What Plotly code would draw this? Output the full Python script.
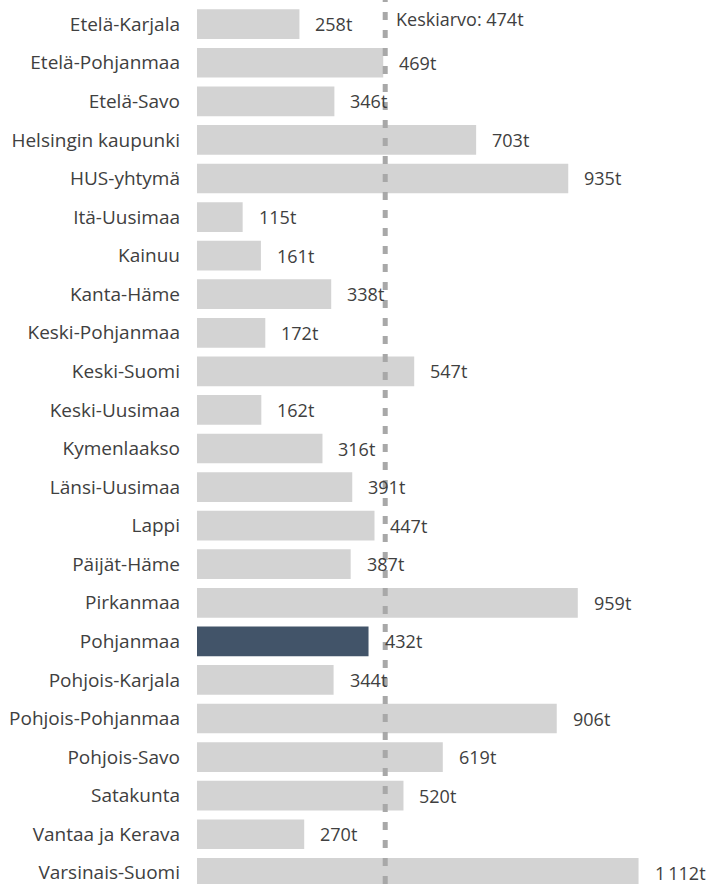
import plotly.graph_objects as go

categories = ["Etelä-Karjala", "Etelä-Pohjanmaa", "Etelä-Savo", "Helsingin kaupunki",
              "HUS-yhtymä", "Itä-Uusimaa", "Kainuu", "Kanta-Häme", "Keski-Pohjanmaa",
              "Keski-Suomi", "Keski-Uusimaa", "Kymenlaakso", "Länsi-Uusimaa", "Lappi",
              "Päijät-Häme", "Pirkanmaa", "Pohjanmaa", "Pohjois-Karjala",
              "Pohjois-Pohjanmaa", "Pohjois-Savo", "Satakunta", "Vantaa ja Kerava",
              "Varsinais-Suomi"]
values = [258, 469, 346, 703, 935, 115, 161, 338, 172, 547, 162, 316, 391, 447,
          387, 959, 432, 344, 906, 619, 520, 270, 1112]
highlight = "Pohjanmaa"
mean_value = 474
mean_label = "Keskiarvo: 474t"

def fmt(v):
    return f"{v:,}".replace(",", "\u2009") + "t"

labels = [fmt(v) for v in values]
colors = ["#425469" if c == highlight else "#d3d3d3" for c in categories]

FONT = "Open Sans"
FS = 19
FS_VAL = 18
TXT = "#404040"

fig = go.Figure()
fig.add_trace(go.Bar(
    y=categories, x=values, orientation="h",
    marker=dict(color=colors, line=dict(width=0)),
    hoverinfo="skip",
))

for c, v, lab in zip(categories, values, labels):
    fig.add_annotation(x=v, y=c, text=lab, showarrow=False, xanchor="left",
                       yanchor="middle", xshift=14,
                       font=dict(family=FONT, size=FS_VAL, color=TXT))

fig.add_shape(type="line", x0=mean_value, x1=mean_value, y0=0, y1=1,
              xref="x", yref="paper",
              line=dict(color="#a8a8a8", width=5, dash="8px,10px"))
fig.add_annotation(x=mean_value, y=1 - 19 / 884, xref="x", yref="paper",
                   text=mean_label, showarrow=False, xanchor="left",
                   yanchor="middle", xshift=9,
                   font=dict(family=FONT, size=FS_VAL, color=TXT))

fig.update_layout(
    width=712, height=884,
    margin=dict(l=197, r=0, t=0, b=0, autoexpand=False),
    paper_bgcolor="white", plot_bgcolor="white",
    bargap=0.23, showlegend=False,
    font=dict(family=FONT, size=FS, color=TXT),
    xaxis=dict(range=[0, 1297], visible=False, showgrid=False, zeroline=False,
               automargin=False),
    yaxis=dict(range=[22.29, -0.627], showgrid=False, zeroline=False,
               showline=False, ticks="", ticklabelstandoff=16, automargin=False,
               tickfont=dict(family=FONT, size=FS, color=TXT)),
)

fig.write_html("out.html", config={"displayModeBar": False},
               post_script="document.body.style.margin='0';document.body.style.overflow='hidden';")
